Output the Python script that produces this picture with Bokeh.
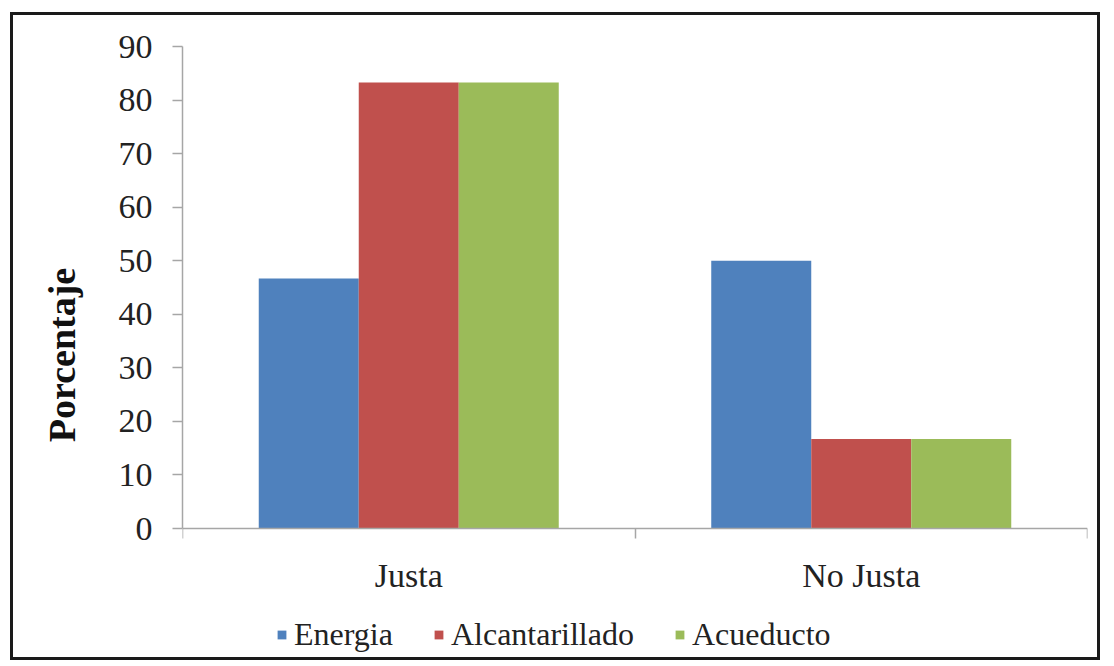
from bokeh.plotting import figure
from bokeh.models import (Range1d, LinearAxis, FixedTicker,
                          Legend, LegendItem, ColumnDataSource)
from bokeh.transform import dodge
from bokeh.embed import file_html
from bokeh.resources import INLINE

categories = ["Justa", "No Justa"]
series_names = ["Energia", "Alcantarillado", "Acueducto"]
energia = [46.7, 50.0]
alcantarillado = [83.3, 16.7]
acueducto = [83.3, 16.7]
y_ticks = [0, 10, 20, 30, 40, 50, 60, 70, 80, 90]
colors = ["#4F81BD", "#C0504D", "#9BBB59"]

FONT = "Liberation Serif"
AXIS_COLOR = "#a6a6a6"

cat_x = [i + 0.5 for i in range(len(categories))]
bounds = list(range(len(categories) + 1))
src = ColumnDataSource(dict(x=cat_x, Energia=energia,
                            Alcantarillado=alcantarillado, Acueducto=acueducto))

# frame extends below zero to leave room for labels and legend inside the canvas
p = figure(width=1090, height=648, x_range=Range1d(0, len(categories)),
           y_range=Range1d(-25.2, 90), output_backend="svg", toolbar_location=None,
           x_axis_location=None, min_border_left=169, min_border_right=16,
           min_border_top=31, min_border_bottom=0)
p.styles = {"border": "3px solid #1a1a1a", "margin-left": "10px", "margin-top": "12px"}
p.outline_line_color = None
p.xgrid.grid_line_color = None
p.ygrid.grid_line_color = None
p.background_fill_color = "white"
p.border_fill_color = "white"

bw = 0.221
offsets = [-bw, 0, bw]
renderers = []
for name, off, col in zip(series_names, offsets, colors):
    r = p.vbar(x=dodge("x", off, range=p.x_range), top=name, bottom=0, width=bw, source=src,
               fill_color=col, line_color=None)
    renderers.append(r)

# y axis
ya = p.yaxis[0]
ya.ticker = FixedTicker(ticks=y_ticks)
ya.bounds = (0, 90)
ya.axis_line_color = AXIS_COLOR
ya.axis_line_width = 1.5
ya.major_tick_line_color = AXIS_COLOR
ya.major_tick_line_width = 1.5
ya.major_tick_in = 0
ya.major_tick_out = 10
ya.minor_tick_line_color = None
ya.major_label_text_font = FONT
ya.major_label_text_font_size = "34px"
ya.major_label_text_color = "#222222"
ya.major_label_standoff = 20
ya.axis_label = "Porcentaje"
ya.axis_label_text_font = FONT
ya.axis_label_text_font_style = "bold"
ya.axis_label_text_font_size = "38px"
ya.axis_label_text_color = "#111111"
ya.axis_label_standoff = 33

# x axis fixed at y = 0: category labels at centres, tick marks at category boundaries
xa = LinearAxis(ticker=FixedTicker(ticks=cat_x, minor_ticks=bounds), fixed_location=0,
                major_label_overrides={x: c for x, c in zip(cat_x, categories)})
xa.axis_line_color = AXIS_COLOR
xa.axis_line_width = 1.5
xa.major_tick_line_color = None
xa.major_tick_in = 0
xa.major_tick_out = 10
xa.minor_tick_line_color = AXIS_COLOR
xa.minor_tick_line_width = 1.5
xa.minor_tick_in = 0
xa.minor_tick_out = 10
xa.major_label_text_font = FONT
xa.major_label_text_font_size = "34px"
xa.major_label_text_color = "#222222"
xa.major_label_standoff = 18
p.add_layout(xa, "below")

legend = Legend(items=[LegendItem(label=n, renderers=[r]) for n, r in zip(series_names, renderers)],
                orientation="horizontal", location=(94, 10))
legend.label_text_font = FONT
legend.label_text_font_size = "32px"
legend.label_text_color = "#222222"
legend.glyph_width = 11
legend.glyph_height = 11
legend.label_standoff = 7
legend.spacing = 40
legend.padding = 5
legend.margin = 0
legend.border_line_color = None
legend.background_fill_alpha = 0
p.add_layout(legend, "center")

open("out.html", "w").write(file_html(p, INLINE))
